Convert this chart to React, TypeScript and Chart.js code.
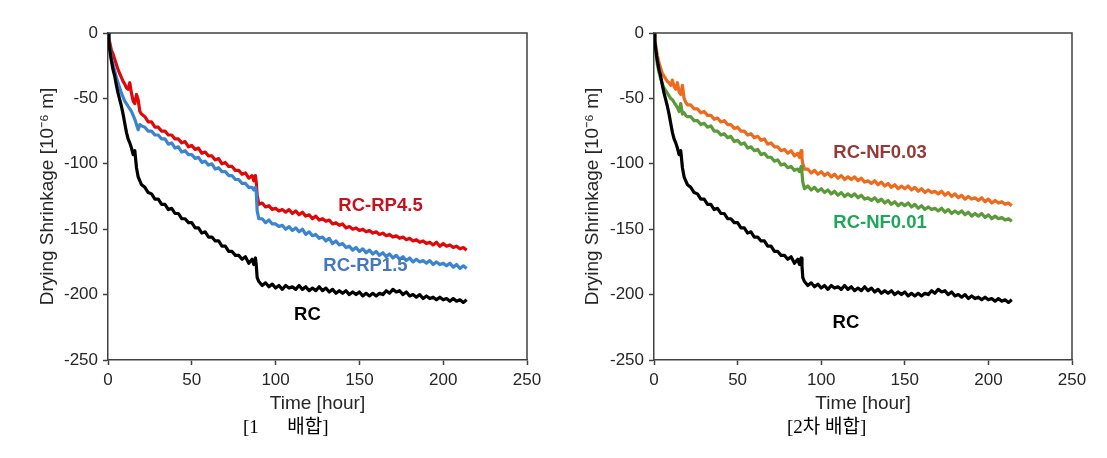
import React, { useEffect, useRef } from "react";
import { Chart, registerables } from "chart.js";

Chart.register(...registerables);

// Time axis (hours) shared by all series
const TIME_H = [
  0, 0.5, 1, 1.5, 2, 3, 4, 5, 6, 7, 8, 9, 10, 11, 12, 13, 14, 15, 16, 17, 18, 19, 20,
  22, 24, 26, 28, 30, 32, 34, 36, 38, 40, 42, 44, 46, 48, 50, 52, 54, 56, 58, 60, 62, 64, 66, 68, 70, 72, 74, 76, 78, 80, 82, 84, 86,
  87, 88, 88.5, 89, 90,
  92, 94, 96, 98, 100, 102, 104, 106, 108, 110,
  112, 114, 116, 118, 120, 122, 124, 126, 128, 130,
  132, 134, 136, 138, 140, 142, 144, 146, 148, 150,
  152, 154, 156, 158, 160, 162, 164, 166, 168, 170,
  172, 174, 176, 178, 180, 182, 184, 186, 188, 190,
  192, 194, 196, 198, 200, 202, 204, 206, 208, 210,
  212, 214,
];

const RC = [
  0, -6, -12, -17, -21, -28, -33, -40, -46, -51, -56, -62, -69, -76, -81, -84, -88, -93, -90, -103, -110, -113, -116,
  -118, -122, -123, -127, -127, -131, -131, -135, -134, -138, -138, -142, -142, -145, -145, -149, -149, -153, -152, -156,
  -156, -159, -159, -163, -163, -167, -167, -170, -170, -173, -171, -176, -173,
  -177, -172, -178, -187, -190,
  -193, -191, -194, -192, -195, -193, -196, -193, -195, -194,
  -196, -193, -196, -194, -197, -195, -197, -194, -197, -195,
  -198, -196, -199, -197, -199, -197, -200, -198, -200, -198,
  -201, -199, -201, -199, -201, -199, -200, -197, -199, -196,
  -198, -197, -200, -198, -201, -200, -202, -200, -203, -201,
  -203, -202, -204, -202, -204, -203, -205, -203, -205, -204,
  -206, -204,
];

const RC_RP45 = [
  0, -4, -7, -10, -13, -16, -20, -24, -28, -31, -34, -37, -39, -42, -43, -38, -46, -52, -54, -47, -51, -60, -62,
  -64, -68, -68, -72, -72, -75, -75, -78, -78, -81, -81, -84, -83, -87, -86, -89, -88, -92, -91, -94,
  -94, -97, -96, -100, -99, -102, -102, -105, -105, -108, -107, -111, -109,
  -113, -109, -115, -124, -131,
  -130, -133, -132, -135, -134, -136, -135, -137, -135, -138,
  -136, -139, -137, -140, -139, -142, -140, -143, -142, -144,
  -143, -146, -145, -147, -146, -149, -148, -150, -149, -151,
  -150, -152, -151, -153, -152, -154, -153, -155, -154, -156,
  -155, -157, -156, -158, -157, -159, -158, -160, -159, -161,
  -160, -162, -160, -163, -161, -163, -162, -164, -163, -165,
  -164, -166,
];

const RC_RP15 = [
  0, -6, -11, -15, -19, -24, -29, -34, -38, -42, -46, -49, -52, -54, -56, -58, -60, -63, -66, -70, -74, -70, -71,
  -72, -75, -75, -78, -78, -81, -81, -85, -84, -88, -87, -91, -90, -93, -93, -96, -95, -99, -98, -101,
  -100, -104, -103, -106, -106, -109, -109, -112, -112, -115, -115, -118, -118,
  -120, -118, -122, -136, -142,
  -142, -145, -143, -146, -146, -148, -147, -150, -148, -151,
  -149, -152, -150, -154, -152, -155, -154, -157, -156, -159,
  -157, -161, -159, -162, -161, -164, -163, -166, -164, -167,
  -165, -168, -166, -169, -167, -170, -168, -171, -169, -172,
  -170, -173, -171, -174, -172, -175, -173, -175, -174, -176,
  -174, -177, -175, -177, -176, -178, -176, -179, -177, -180,
  -178, -180,
];

const RC_NF003 = [
  0, -5, -9, -13, -17, -23, -27, -31, -33, -35, -37, -38, -40, -36, -41, -43, -38, -45, -47, -40, -50, -53, -55,
  -55, -58, -58, -61, -60, -63, -63, -66, -65, -68, -67, -70, -70, -73, -72, -75, -75, -78, -77, -80,
  -79, -82, -81, -85, -84, -87, -87, -90, -89, -92, -90, -94, -92,
  -95, -90, -96, -100, -104,
  -104, -107, -105, -108, -106, -109, -107, -110, -108, -111,
  -109, -112, -110, -112, -110, -113, -111, -114, -113, -115,
  -113, -116, -114, -117, -115, -118, -116, -119, -117, -119,
  -117, -120, -118, -121, -119, -122, -120, -122, -121, -123,
  -121, -124, -122, -125, -123, -126, -124, -127, -125, -127,
  -126, -128, -126, -129, -127, -130, -128, -130, -129, -131,
  -130, -132,
];

const RC_NF001 = [
  0, -8, -14, -19, -24, -30, -35, -39, -42, -44, -46, -48, -50, -51, -53, -55, -57, -60, -54, -62, -61, -63, -64,
  -64, -67, -67, -70, -69, -72, -71, -75, -75, -78, -77, -80, -79, -83, -82, -85, -84, -88, -87, -90,
  -89, -93, -92, -95, -95, -98, -97, -101, -100, -103, -102, -105, -104,
  -106, -102, -107, -114, -119,
  -117, -120, -118, -121, -119, -122, -120, -123, -121, -124,
  -122, -125, -123, -125, -123, -126, -124, -127, -126, -128,
  -126, -129, -127, -130, -128, -131, -129, -132, -130, -132,
  -130, -133, -131, -134, -132, -135, -133, -135, -134, -136,
  -134, -137, -135, -138, -136, -138, -136, -139, -137, -140,
  -138, -140, -138, -141, -139, -142, -140, -142, -141, -143,
  -142, -144,
];

const X_TICKS = [0, 50, 100, 150, 200, 250];
const Y_TICKS = [-250, -200, -150, -100, -50, 0];

const AXIS_COLOR = "#404040";
const TEXT_COLOR = "#262626";
const SANS = "'Liberation Sans', Arial, sans-serif";

type Series = { label: string; values: number[]; color: string };
type Tag = { text: string; t: number; v: number; color: string };

const LEFT_SERIES: Series[] = [
  { label: "RC", values: RC, color: "#000000" },
  { label: "RC-RP1.5", values: RC_RP15, color: "#3A84D0" },
  { label: "RC-RP4.5", values: RC_RP45, color: "#E00808" },
];
const RIGHT_SERIES: Series[] = [
  { label: "RC", values: RC, color: "#000000" },
  { label: "RC-NF0.01", values: RC_NF001, color: "#5A9A38" },
  { label: "RC-NF0.03", values: RC_NF003, color: "#EE6A1C" },
];

const LEFT_TAGS: Tag[] = [
  { text: "RC-RP4.5", t: 162.6, v: -131.9, color: "#C8101E" },
  { text: "RC-RP1.5", t: 153.6, v: -177.8, color: "#4677BC" },
  { text: "RC", t: 119.0, v: -215.6, color: "#000000" },
];
const RIGHT_TAGS: Tag[] = [
  { text: "RC-NF0.03", t: 135.2, v: -91.4, color: "#943A36" },
  { text: "RC-NF0.01", t: 135.2, v: -144.9, color: "#1EA65A" },
  { text: "RC", t: 114.8, v: -221.7, color: "#000000" },
];

const boxPlugin = {
  id: "box",
  afterDraw(chart: any) {
    const { ctx, chartArea: a } = chart;
    ctx.save();
    ctx.strokeStyle = AXIS_COLOR;
    ctx.lineWidth = 1.5;
    ctx.beginPath();
    ctx.moveTo(a.left, a.top);
    ctx.lineTo(a.right, a.top);
    ctx.lineTo(a.right, a.bottom);
    ctx.stroke();
    ctx.restore();
  },
};

const tagPlugin = {
  id: "tags",
  afterDatasetsDraw(chart: any, _args: any, opts: any) {
    const { ctx, scales } = chart;
    ctx.save();
    ctx.font = `bold 18.5px ${SANS}`;
    ctx.textAlign = "center";
    ctx.textBaseline = "middle";
    for (const tg of opts.items as Tag[]) {
      ctx.fillStyle = tg.color;
      ctx.fillText(tg.text, scales.x.getPixelForValue(tg.t), scales.y.getPixelForValue(tg.v));
    }
    ctx.restore();
  },
};

function DryingChart(props: {
  series: Series[];
  tags: Tag[];
  left: number;
  width: number;
  axisWidth: number;
  titlePad: number;
  padRight: number;
}) {
  const ref = useRef<HTMLCanvasElement>(null);
  useEffect(() => {
    if (!ref.current) return;
    const chart = new Chart(ref.current, {
      type: "line",
      data: {
        datasets: props.series.map((s) => ({
          label: s.label,
          data: TIME_H.map((t, i) => ({ x: t, y: s.values[i] })),
          borderColor: s.color,
          backgroundColor: s.color,
          borderWidth: 3.2,
          borderJoinStyle: "round",
          pointRadius: 0,
          tension: 0,
          fill: false,
        })),
      },
      options: {
        responsive: false,
        animation: false,
        devicePixelRatio: 1,
        layout: { padding: { left: 0, top: 33, right: props.padRight, bottom: 38 } },
        plugins: {
          legend: { display: false },
          tooltip: { enabled: false },
          tags: { items: props.tags },
        } as any,
        scales: {
          x: {
            type: "linear",
            min: 0,
            max: 250,
            afterBuildTicks(s: any) {
              s.ticks = X_TICKS.map((v) => ({ value: v }));
            },
            afterFit(s: any) {
              s.height = 60;
            },
            ticks: { color: TEXT_COLOR, font: { family: SANS, size: 17 }, padding: 5, maxRotation: 0 },
            grid: { drawOnChartArea: false, drawTicks: true, tickLength: 5, tickColor: AXIS_COLOR, tickWidth: 1.5 },
            border: { color: AXIS_COLOR, width: 1.5 },
            title: {
              display: true,
              text: "Time [hour]",
              color: TEXT_COLOR,
              font: { family: SANS, size: 19 },
              padding: { top: 0, bottom: 4.6 },
            },
          },
          y: {
            type: "linear",
            min: -250,
            max: 0,
            afterBuildTicks(s: any) {
              s.ticks = Y_TICKS.map((v) => ({ value: v }));
            },
            afterFit(s: any) {
              s.width = props.axisWidth;
            },
            ticks: { color: TEXT_COLOR, font: { family: SANS, size: 17 }, padding: 5 },
            grid: { drawOnChartArea: false, drawTicks: true, tickLength: 5, tickColor: AXIS_COLOR, tickWidth: 1.5 },
            border: { color: AXIS_COLOR, width: 1.5 },
            title: {
              display: true,
              text: "Drying Shrinkage [10⁻⁶ m]",
              color: TEXT_COLOR,
              font: { family: SANS, size: 19 },
              padding: { top: props.titlePad, bottom: 0 },
            },
          },
        },
      },
      plugins: [boxPlugin, tagPlugin],
    } as any);
    return () => chart.destroy();
  }, []);
  return (
    <canvas
      ref={ref}
      width={props.width}
      height={458}
      style={{ position: "absolute", left: props.left, top: 0, width: props.width, height: 458 }}
    />
  );
}

const captionStyle: React.CSSProperties = {
  position: "absolute",
  top: 416,
  fontFamily: "'Liberation Serif', 'Noto Sans CJK KR', serif",
  fontSize: 19,
  lineHeight: "22px",
  color: "#000",
  whiteSpace: "pre",
};

export default function App() {
  return (
    <div style={{ position: "absolute", left: 0, top: 0, width: 1107, height: 458, background: "#fff", overflow: "hidden" }}>
      <DryingChart series={LEFT_SERIES} tags={LEFT_TAGS} left={0} width={553} axisWidth={108} titlePad={36.6} padRight={26} />
      <DryingChart series={RIGHT_SERIES} tags={RIGHT_TAGS} left={553} width={554} axisWidth={101} titlePad={28.6} padRight={35} />
      <div style={{ ...captionStyle, left: 243 }}>{"[1      배합]"}</div>
      <div style={{ ...captionStyle, left: 787 }}>{"[2차 배합]"}</div>
    </div>
  );
}
